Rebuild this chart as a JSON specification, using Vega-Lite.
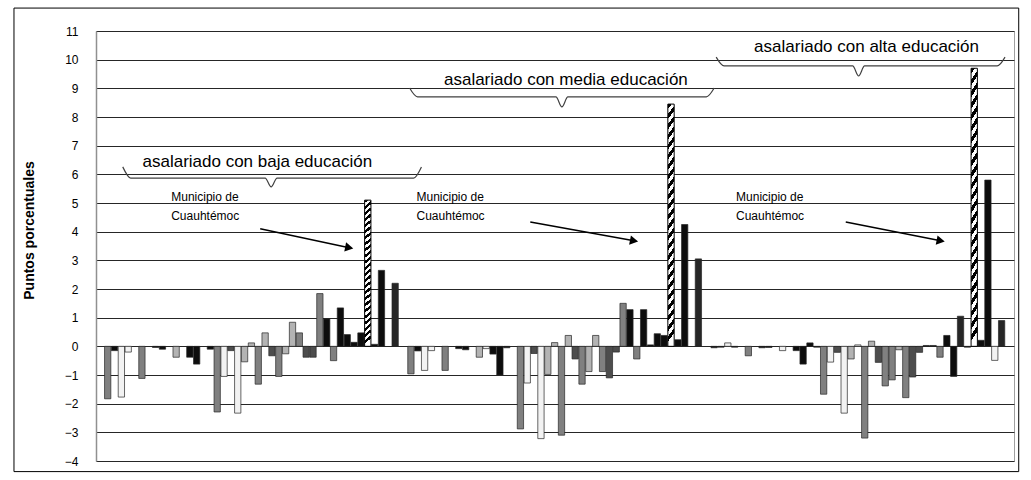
{
  "$schema": "https://vega.github.io/schema/vega-lite/v6.json",
  "width": 918,
  "height": 430,
  "autosize": {"type": "none"},
  "padding": {"left": 96, "top": 31, "right": 17, "bottom": 19},
  "background": "white",
  "config": {
    "view": {"stroke": "#a0a0a0", "strokeWidth": 1},
    "font": "Liberation Sans"
  },
  "datasets": {
    "bars": [
      {"pos": 0, "value": -1.83, "series": "A"},
      {"pos": 1, "value": -0.15, "series": "B"},
      {"pos": 2, "value": -1.77, "series": "E"},
      {"pos": 3, "value": -0.2, "series": "E"},
      {"pos": 5, "value": -1.12, "series": "A"},
      {"pos": 7, "value": -0.04, "series": "B"},
      {"pos": 8, "value": -0.1, "series": "B"},
      {"pos": 10, "value": -0.38, "series": "D"},
      {"pos": 12, "value": -0.38, "series": "B"},
      {"pos": 13, "value": -0.62, "series": "B"},
      {"pos": 15, "value": -0.1, "series": "B"},
      {"pos": 16, "value": -2.29, "series": "A"},
      {"pos": 17, "value": -1.05, "series": "E"},
      {"pos": 18, "value": -0.15, "series": "C"},
      {"pos": 19, "value": -2.33, "series": "E"},
      {"pos": 20, "value": -0.54, "series": "D"},
      {"pos": 21, "value": 0.12, "series": "D"},
      {"pos": 22, "value": -1.32, "series": "A"},
      {"pos": 23, "value": 0.47, "series": "D"},
      {"pos": 24, "value": -0.33, "series": "C"},
      {"pos": 25, "value": -1.05, "series": "A"},
      {"pos": 26, "value": -0.26, "series": "D"},
      {"pos": 27, "value": 0.84, "series": "D"},
      {"pos": 28, "value": 0.47, "series": "A"},
      {"pos": 29, "value": -0.38, "series": "C"},
      {"pos": 30, "value": -0.38, "series": "C"},
      {"pos": 31, "value": 1.84, "series": "A"},
      {"pos": 32, "value": 0.96, "series": "B"},
      {"pos": 33, "value": -0.5, "series": "A"},
      {"pos": 34, "value": 1.34, "series": "B"},
      {"pos": 35, "value": 0.41, "series": "B"},
      {"pos": 36, "value": 0.14, "series": "B"},
      {"pos": 37, "value": 0.47, "series": "B"},
      {"pos": 38, "value": 5.1, "series": "H"},
      {"pos": 39, "value": 0.07, "series": "B"},
      {"pos": 40, "value": 2.65, "series": "B"},
      {"pos": 42, "value": 2.2, "series": "F"},

      {"pos": 44.3, "value": -0.96, "series": "A"},
      {"pos": 45.3, "value": -0.16, "series": "B"},
      {"pos": 46.3, "value": -0.84, "series": "E"},
      {"pos": 47.3, "value": -0.15, "series": "E"},
      {"pos": 49.3, "value": -0.84, "series": "A"},
      {"pos": 51.3, "value": -0.08, "series": "B"},
      {"pos": 52.3, "value": -0.12, "series": "B"},
      {"pos": 54.3, "value": -0.38, "series": "D"},
      {"pos": 55.3, "value": -0.08, "series": "E"},
      {"pos": 56.3, "value": -0.27, "series": "B"},
      {"pos": 57.3, "value": -1.0, "series": "B"},
      {"pos": 58.3, "value": -0.05, "series": "B"},
      {"pos": 60.3, "value": -2.88, "series": "A"},
      {"pos": 61.3, "value": -1.28, "series": "E"},
      {"pos": 62.3, "value": -0.25, "series": "C"},
      {"pos": 63.3, "value": -3.22, "series": "E"},
      {"pos": 64.3, "value": -0.98, "series": "D"},
      {"pos": 65.3, "value": 0.13, "series": "D"},
      {"pos": 66.3, "value": -3.1, "series": "A"},
      {"pos": 67.3, "value": 0.38, "series": "D"},
      {"pos": 68.3, "value": -0.44, "series": "C"},
      {"pos": 69.3, "value": -1.32, "series": "A"},
      {"pos": 70.3, "value": -0.88, "series": "D"},
      {"pos": 71.3, "value": 0.38, "series": "D"},
      {"pos": 72.3, "value": -0.88, "series": "A"},
      {"pos": 73.3, "value": -1.1, "series": "C"},
      {"pos": 74.3, "value": -0.2, "series": "C"},
      {"pos": 75.3, "value": 1.5, "series": "A"},
      {"pos": 76.3, "value": 1.28, "series": "B"},
      {"pos": 77.3, "value": -0.44, "series": "A"},
      {"pos": 78.3, "value": 1.28, "series": "B"},
      {"pos": 79.3, "value": 0.05, "series": "B"},
      {"pos": 80.3, "value": 0.44, "series": "B"},
      {"pos": 81.3, "value": 0.38, "series": "B"},
      {"pos": 82.3, "value": 8.45, "series": "H"},
      {"pos": 83.3, "value": 0.23, "series": "B"},
      {"pos": 84.3, "value": 4.25, "series": "B"},
      {"pos": 86.3, "value": 3.05, "series": "F"},

      {"pos": 88.6, "value": -0.05, "series": "B"},
      {"pos": 89.6, "value": -0.03, "series": "B"},
      {"pos": 90.6, "value": 0.12, "series": "E"},
      {"pos": 91.6, "value": -0.03, "series": "B"},
      {"pos": 93.6, "value": -0.33, "series": "A"},
      {"pos": 95.6, "value": -0.05, "series": "B"},
      {"pos": 96.6, "value": -0.04, "series": "B"},
      {"pos": 98.6, "value": -0.15, "series": "E"},
      {"pos": 100.6, "value": -0.15, "series": "B"},
      {"pos": 101.6, "value": -0.62, "series": "B"},
      {"pos": 102.6, "value": 0.12, "series": "B"},
      {"pos": 103.6, "value": -0.03, "series": "B"},
      {"pos": 104.6, "value": -1.67, "series": "A"},
      {"pos": 105.6, "value": -0.55, "series": "E"},
      {"pos": 106.6, "value": -0.21, "series": "C"},
      {"pos": 107.6, "value": -2.33, "series": "E"},
      {"pos": 108.6, "value": -0.44, "series": "D"},
      {"pos": 109.6, "value": 0.05, "series": "E"},
      {"pos": 110.6, "value": -3.2, "series": "A"},
      {"pos": 111.6, "value": 0.18, "series": "D"},
      {"pos": 112.6, "value": -0.56, "series": "C"},
      {"pos": 113.6, "value": -1.38, "series": "A"},
      {"pos": 114.6, "value": -1.17, "series": "A"},
      {"pos": 115.6, "value": -0.12, "series": "D"},
      {"pos": 116.6, "value": -1.79, "series": "A"},
      {"pos": 117.6, "value": -1.07, "series": "C"},
      {"pos": 118.6, "value": -0.21, "series": "C"},
      {"pos": 119.6, "value": 0.03, "series": "B"},
      {"pos": 120.6, "value": 0.03, "series": "B"},
      {"pos": 121.6, "value": -0.38, "series": "A"},
      {"pos": 122.6, "value": 0.38, "series": "B"},
      {"pos": 123.6, "value": -1.05, "series": "B"},
      {"pos": 124.6, "value": 1.05, "series": "F"},
      {"pos": 125.6, "value": -0.03, "series": "B"},
      {"pos": 126.6, "value": 9.7, "series": "H"},
      {"pos": 127.6, "value": 0.21, "series": "B"},
      {"pos": 128.6, "value": 5.8, "series": "B"},
      {"pos": 129.6, "value": -0.49, "series": "E"},
      {"pos": 130.6, "value": 0.9, "series": "F"}
    ],
    "braces": [
      {"brace": 1, "pos": 2.2, "value": 6.26},
      {"brace": 1, "pos": 3.36, "value": 5.87},
      {"brace": 1, "pos": 23.01, "value": 5.87},
      {"brace": 1, "pos": 23.88, "value": 5.56},
      {"brace": 1, "pos": 24.74, "value": 5.87},
      {"brace": 1, "pos": 44.69, "value": 5.87},
      {"brace": 1, "pos": 45.84, "value": 6.26},
      {"brace": 2, "pos": 44.11, "value": 9.01},
      {"brace": 2, "pos": 45.27, "value": 8.7},
      {"brace": 2, "pos": 65.49, "value": 8.7},
      {"brace": 2, "pos": 66.36, "value": 8.35},
      {"brace": 2, "pos": 67.23, "value": 8.7},
      {"brace": 2, "pos": 87.46, "value": 8.7},
      {"brace": 2, "pos": 88.61, "value": 9.01},
      {"brace": 3, "pos": 88.9, "value": 10.09},
      {"brace": 3, "pos": 90.05, "value": 9.78},
      {"brace": 3, "pos": 108.84, "value": 9.78},
      {"brace": 3, "pos": 109.71, "value": 9.43},
      {"brace": 3, "pos": 110.58, "value": 9.78},
      {"brace": 3, "pos": 129.95, "value": 9.78},
      {"brace": 3, "pos": 131.1, "value": 10.09}
    ],
    "groups": [
      {"pos": 21.86, "value": 6.43, "label": "asalariado con baja educación"},
      {"pos": 66.94, "value": 9.29, "label": "asalariado con media educación"},
      {"pos": 110.87, "value": 10.44, "label": "asalariado con alta educación"}
    ],
    "notes": [
      {"pos": 9.28, "value": 5.2, "label": "Municipio de"},
      {"pos": 9.28, "value": 4.55, "label": "Cuauhtémoc"},
      {"pos": 45.12, "value": 5.2, "label": "Municipio de"},
      {"pos": 45.12, "value": 4.55, "label": "Cuauhtémoc"},
      {"pos": 91.8, "value": 5.2, "label": "Municipio de"},
      {"pos": 91.8, "value": 4.55, "label": "Cuauhtémoc"}
    ],
    "arrows": [
      {"arrow": 1, "pos": 22.28, "value": 4.1, "end": 0},
      {"arrow": 1, "pos": 35.29, "value": 3.44, "end": 1},
      {"arrow": 2, "pos": 61.74, "value": 4.34, "end": 0},
      {"arrow": 2, "pos": 76.9, "value": 3.68, "end": 1},
      {"arrow": 3, "pos": 107.83, "value": 4.34, "end": 0},
      {"arrow": 3, "pos": 121.7, "value": 3.68, "end": 1}
    ],
    "frame": [
      {"pos": -13.69, "pos2": 133.1, "value": 11.8, "value2": -4.37}
    ]
  },
  "encoding": {
    "x": {"field": "pos", "type": "quantitative", "scale": {"domain": [-0.977, 131.68], "nice": false, "zero": false}, "axis": null},
    "y": {
      "field": "value", "type": "quantitative",
      "scale": {"domain": [-4, 11], "nice": false, "zero": false},
      "axis": {
        "values": [-4, -3, -2, -1, 0, 1, 2, 3, 4, 5, 6, 7, 8, 9, 10, 11],
        "grid": true, "gridColor": "#262626", "gridWidth": 1,
        "ticks": false, "domain": true, "domainColor": "#909090", "domainWidth": 1.5,
        "labelFont": "Liberation Sans", "labelFontSize": 12, "labelColor": "#000", "labelPadding": 18,
        "title": "Puntos porcentuales", "titleFont": "Liberation Sans", "titleFontSize": 14,
        "titleFontWeight": "bold", "titleColor": "#000", "titlePadding": 28, "titleY": 199
      }
    }
  },
  "layer": [
    {
      "data": {"name": "frame"},
      "mark": {"type": "rect", "fill": "white", "fillOpacity": 0, "stroke": "#000", "strokeWidth": 1},
      "encoding": {
        "x2": {"field": "pos2"},
        "y2": {"field": "value2"}
      }
    },
    {
      "data": {"name": "bars"},
      "transform": [{"filter": "datum.series != 'H'"}],
      "mark": {"type": "bar", "size": 6.3, "stroke": "#262626", "strokeWidth": 0.7},
      "encoding": {
        "color": {
          "field": "series", "type": "nominal",
          "scale": {"domain": ["A", "B", "C", "D", "E", "F"], "range": ["#808080", "#0d0d0d", "#4d4d4d", "#b3b3b3", "#f2f2f2", "#262626"]},
          "legend": null
        }
      }
    },
    {
      "data": {"name": "bars"},
      "transform": [{"filter": "datum.series == 'H'"}],
      "mark": {
        "type": "bar", "size": 6.3, "stroke": "#000", "strokeWidth": 1,
        "fill": {
          "gradient": "linear", "x1": 0, "y1": 0, "x2": 0.035, "y2": 1,
          "stops": [
            {"offset": 0, "color": "#000"}, {"offset": 0.0208, "color": "#000"}, {"offset": 0.0208, "color": "#fff"}, {"offset": 0.0417, "color": "#fff"},
            {"offset": 0.0417, "color": "#000"}, {"offset": 0.0625, "color": "#000"}, {"offset": 0.0625, "color": "#fff"}, {"offset": 0.0833, "color": "#fff"},
            {"offset": 0.0833, "color": "#000"}, {"offset": 0.1042, "color": "#000"}, {"offset": 0.1042, "color": "#fff"}, {"offset": 0.125, "color": "#fff"},
            {"offset": 0.125, "color": "#000"}, {"offset": 0.1458, "color": "#000"}, {"offset": 0.1458, "color": "#fff"}, {"offset": 0.1667, "color": "#fff"},
            {"offset": 0.1667, "color": "#000"}, {"offset": 0.1875, "color": "#000"}, {"offset": 0.1875, "color": "#fff"}, {"offset": 0.2083, "color": "#fff"},
            {"offset": 0.2083, "color": "#000"}, {"offset": 0.2292, "color": "#000"}, {"offset": 0.2292, "color": "#fff"}, {"offset": 0.25, "color": "#fff"},
            {"offset": 0.25, "color": "#000"}, {"offset": 0.2708, "color": "#000"}, {"offset": 0.2708, "color": "#fff"}, {"offset": 0.2917, "color": "#fff"},
            {"offset": 0.2917, "color": "#000"}, {"offset": 0.3125, "color": "#000"}, {"offset": 0.3125, "color": "#fff"}, {"offset": 0.3333, "color": "#fff"},
            {"offset": 0.3333, "color": "#000"}, {"offset": 0.3542, "color": "#000"}, {"offset": 0.3542, "color": "#fff"}, {"offset": 0.375, "color": "#fff"},
            {"offset": 0.375, "color": "#000"}, {"offset": 0.3958, "color": "#000"}, {"offset": 0.3958, "color": "#fff"}, {"offset": 0.4167, "color": "#fff"},
            {"offset": 0.4167, "color": "#000"}, {"offset": 0.4375, "color": "#000"}, {"offset": 0.4375, "color": "#fff"}, {"offset": 0.4583, "color": "#fff"},
            {"offset": 0.4583, "color": "#000"}, {"offset": 0.4792, "color": "#000"}, {"offset": 0.4792, "color": "#fff"}, {"offset": 0.5, "color": "#fff"},
            {"offset": 0.5, "color": "#000"}, {"offset": 0.5208, "color": "#000"}, {"offset": 0.5208, "color": "#fff"}, {"offset": 0.5417, "color": "#fff"},
            {"offset": 0.5417, "color": "#000"}, {"offset": 0.5625, "color": "#000"}, {"offset": 0.5625, "color": "#fff"}, {"offset": 0.5833, "color": "#fff"},
            {"offset": 0.5833, "color": "#000"}, {"offset": 0.6042, "color": "#000"}, {"offset": 0.6042, "color": "#fff"}, {"offset": 0.625, "color": "#fff"},
            {"offset": 0.625, "color": "#000"}, {"offset": 0.6458, "color": "#000"}, {"offset": 0.6458, "color": "#fff"}, {"offset": 0.6667, "color": "#fff"},
            {"offset": 0.6667, "color": "#000"}, {"offset": 0.6875, "color": "#000"}, {"offset": 0.6875, "color": "#fff"}, {"offset": 0.7083, "color": "#fff"},
            {"offset": 0.7083, "color": "#000"}, {"offset": 0.7292, "color": "#000"}, {"offset": 0.7292, "color": "#fff"}, {"offset": 0.75, "color": "#fff"},
            {"offset": 0.75, "color": "#000"}, {"offset": 0.7708, "color": "#000"}, {"offset": 0.7708, "color": "#fff"}, {"offset": 0.7917, "color": "#fff"},
            {"offset": 0.7917, "color": "#000"}, {"offset": 0.8125, "color": "#000"}, {"offset": 0.8125, "color": "#fff"}, {"offset": 0.8333, "color": "#fff"},
            {"offset": 0.8333, "color": "#000"}, {"offset": 0.8542, "color": "#000"}, {"offset": 0.8542, "color": "#fff"}, {"offset": 0.875, "color": "#fff"},
            {"offset": 0.875, "color": "#000"}, {"offset": 0.8958, "color": "#000"}, {"offset": 0.8958, "color": "#fff"}, {"offset": 0.9167, "color": "#fff"},
            {"offset": 0.9167, "color": "#000"}, {"offset": 0.9375, "color": "#000"}, {"offset": 0.9375, "color": "#fff"}, {"offset": 0.9583, "color": "#fff"},
            {"offset": 0.9583, "color": "#000"}, {"offset": 0.9792, "color": "#000"}, {"offset": 0.9792, "color": "#fff"}, {"offset": 1, "color": "#fff"}
          ]
        }
      },
      "encoding": {}
    },
    {
      "data": {"name": "braces"},
      "mark": {"type": "line", "interpolate": "monotone", "color": "#404040", "strokeWidth": 1.2},
      "encoding": {"detail": {"field": "brace", "type": "nominal"}}
    },
    {
      "data": {"name": "groups"},
      "mark": {"type": "text", "font": "Liberation Sans", "fontSize": 17, "letterSpacing": 1.1, "align": "center", "baseline": "middle", "color": "#000"},
      "encoding": {"text": {"field": "label"}}
    },
    {
      "data": {"name": "notes"},
      "mark": {"type": "text", "font": "Liberation Sans", "fontSize": 12, "align": "left", "baseline": "middle", "color": "#000"},
      "encoding": {"text": {"field": "label"}}
    },
    {
      "data": {"name": "arrows"},
      "mark": {"type": "line", "color": "#000", "strokeWidth": 1.5},
      "encoding": {"detail": {"field": "arrow", "type": "nominal"}}
    },
    {
      "data": {"name": "arrows"},
      "transform": [{"filter": "datum.end == 1"}],
      "mark": {"type": "point", "shape": "triangle-right", "filled": true, "size": 90, "angle": 11, "color": "#000", "opacity": 1},
      "encoding": {}
    }
  ]
}
